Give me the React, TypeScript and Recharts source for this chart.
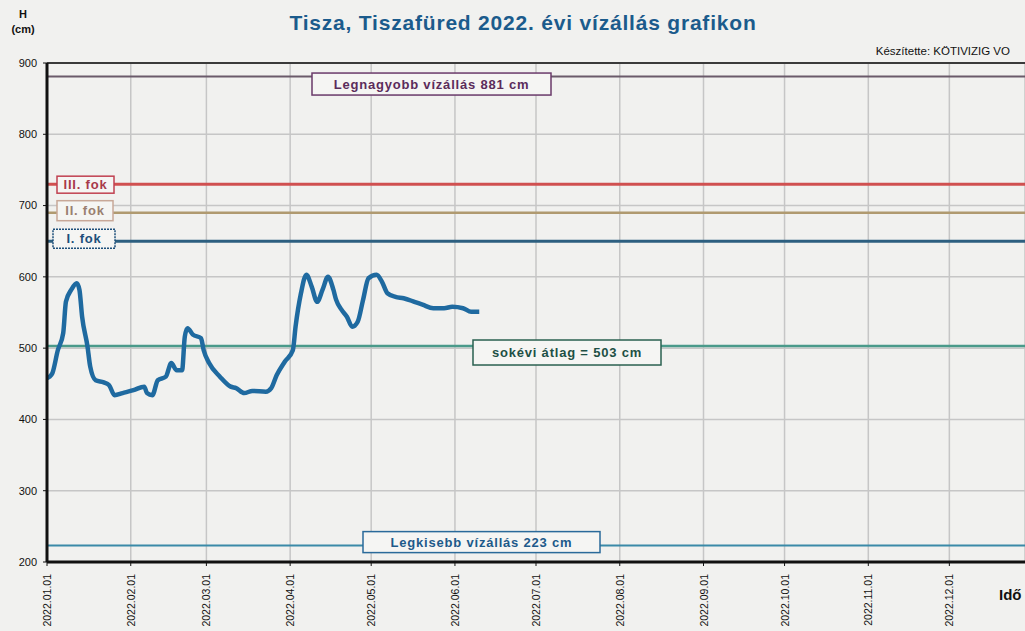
import React from "react";
import {
  LineChart,
  Line,
  XAxis,
  YAxis,
  CartesianGrid,
  ReferenceLine,
} from "recharts";

// day of year (0 = 2022.01.01) and water level in cm
const days = [
  0, 1, 2, 4, 6, 7, 9, 11, 12, 13, 15, 16, 18, 21, 23, 25, 28, 32, 36, 37, 39,
  41, 44, 46, 48, 50, 51, 52, 54, 57, 58, 60, 64, 68, 70, 73, 76, 81, 83, 85,
  88, 91, 92, 94, 96, 98, 100, 102, 104, 106, 107, 109, 111, 113, 115, 117, 119,
  122, 124, 126, 129, 132, 136, 139, 143, 147, 150, 154, 157, 160,
];
const levels = [
  458, 460, 465, 497, 521, 565, 582, 591, 582, 544, 502, 474, 455, 452, 448,
  434, 437, 441, 446, 437, 434, 455, 460, 479, 469, 469, 516, 528, 519, 514,
  497, 479, 460, 446, 444, 437, 440, 439, 444, 462, 481, 497, 530, 577, 603,
  586, 565, 582, 600, 582, 568, 554, 544, 530, 537, 568, 598, 603, 593, 577,
  572, 570, 565, 561, 556, 556, 558, 556, 551, 551,
];

const monthTicks = [0, 31, 59, 90, 120, 151, 181, 212, 243, 273, 304, 334];
const monthLabels = [
  "2022.01.01",
  "2022.02.01",
  "2022.03.01",
  "2022.04.01",
  "2022.05.01",
  "2022.06.01",
  "2022.07.01",
  "2022.08.01",
  "2022.09.01",
  "2022.10.01",
  "2022.11.01",
  "2022.12.01",
];
const yTicks = [200, 300, 400, 500, 600, 700, 800, 900];

const data = days.map((d, i) => ({ day: d, level: levels[i] }));

type BoxCfg = {
  text: string;
  dx: number;
  dy: number;
  w: number;
  h: number;
  border: string;
  color: string;
  dash?: string;
};

const boxLabel = (cfg: BoxCfg) => (props: any) => {
  const vb = props.viewBox || {};
  const x = (vb.x || 0) + cfg.dx;
  const y = (vb.y || 0) + cfg.dy;
  return (
    <g>
      <rect
        x={x}
        y={y}
        width={cfg.w}
        height={cfg.h}
        fill="#f5f5f3"
        stroke={cfg.border}
        strokeWidth={1.5}
        strokeDasharray={cfg.dash}
      />
      <text
        x={x + cfg.w / 2}
        y={y + cfg.h / 2 + 4.5}
        textAnchor="middle"
        fill={cfg.color}
        fontSize={13}
        fontWeight="bold"
        letterSpacing={0.8}
        fontFamily="'Liberation Sans', Arial, sans-serif"
      >
        {cfg.text}
      </text>
    </g>
  );
};

const XTick = (props: any) => {
  const { x, y, index } = props;
  return (
    <text
      x={0}
      y={0}
      transform={`translate(${x + 4},${y + 6}) rotate(-90)`}
      textAnchor="end"
      fontSize={10.5}
      fill="#111"
      fontFamily="'Liberation Sans', Arial, sans-serif"
    >
      {monthLabels[index]}
    </text>
  );
};

const font = "'Liberation Sans', Arial, sans-serif";

export default function App() {
  return (
    <div
      style={{
        position: "absolute",
        left: 0,
        top: 0,
        width: 1025,
        height: 631,
        background: "#f1f1ef",
        overflow: "hidden",
        fontFamily: font,
      }}
    >
      <div
        style={{
          position: "absolute",
          left: 0,
          width: 1046,
          top: 11,
          textAlign: "center",
          fontSize: 21,
          letterSpacing: 0.8,
          fontWeight: "bold",
          color: "#1b5b8c",
        }}
      >
        Tisza, Tiszafüred 2022. évi vízállás grafikon
      </div>
      <div
        style={{
          position: "absolute",
          left: 11,
          top: 7,
          width: 24,
          textAlign: "center",
          fontSize: 11,
          fontWeight: "bold",
          lineHeight: "15px",
          color: "#111",
        }}
      >
        H
        <br />
        (cm)
      </div>
      <div
        style={{
          position: "absolute",
          right: 15,
          top: 45,
          fontSize: 11.5,
          color: "#111",
        }}
      >
        Készítette: KÖTIVIZIG VO
      </div>
      <div
        style={{
          position: "absolute",
          left: 999,
          top: 586,
          fontSize: 15,
          fontWeight: "bold",
          color: "#111",
        }}
      >
        Idő
      </div>
      <div style={{ position: "absolute", left: 0, top: 0 }}>
        <LineChart
          width={1025}
          height={631}
          data={data}
          margin={{ top: 63, right: 0, bottom: 0, left: 7 }}
        >
          <CartesianGrid stroke="#c6c6c6" strokeWidth={1.5} />
          <XAxis
            dataKey="day"
            type="number"
            domain={[0, 362]}
            ticks={monthTicks}
            interval={0}
            height={69}
            tick={<XTick />}
            tickSize={4}
            stroke="#111"
            axisLine={{ stroke: "#111", strokeWidth: 3 }}
          />
          <YAxis
            type="number"
            domain={[200, 900]}
            ticks={yTicks}
            interval={0}
            width={40}
            tickSize={4}
            tickMargin={6}
            stroke="#111"
            axisLine={{ stroke: "#111", strokeWidth: 3 }}
            tick={{ fontSize: 11, fill: "#111", fontFamily: font }}
          />
          <ReferenceLine y={900} stroke="#3a3a3a" strokeWidth={2} />
          <ReferenceLine
            y={881}
            stroke="#6a5a6a"
            strokeWidth={2}
            label={boxLabel({
              text: "Legnagyobb vízállás 881 cm",
              dx: 265,
              dy: -3.5,
              w: 239,
              h: 22,
              border: "#6a3a6a",
              color: "#5b2c5b",
            })}
          />
          <ReferenceLine
            y={730}
            stroke="#d05050"
            strokeWidth={3}
            label={boxLabel({
              text: "III. fok",
              dx: 10,
              dy: -8,
              w: 57,
              h: 17,
              border: "#c04050",
              color: "#a83a4a",
            })}
          />
          <ReferenceLine
            y={690}
            stroke="#b09a70"
            strokeWidth={2.5}
            label={boxLabel({
              text: "II. fok",
              dx: 10,
              dy: -12,
              w: 56,
              h: 20,
              border: "#c8a898",
              color: "#9a8070",
            })}
          />
          <ReferenceLine
            y={650}
            stroke="#2d5f80"
            strokeWidth={3}
            label={boxLabel({
              text: "I. fok",
              dx: 6,
              dy: -12,
              w: 62,
              h: 19,
              border: "#1d4f7a",
              color: "#1d4f7a",
              dash: "2 1",
            })}
          />
          <ReferenceLine
            y={503}
            stroke="#4a9a8a"
            strokeWidth={2.5}
            label={boxLabel({
              text: "sokévi átlag =  503 cm",
              dx: 426,
              dy: -6,
              w: 188,
              h: 25,
              border: "#2a6050",
              color: "#1d5045",
            })}
          />
          <ReferenceLine
            y={223}
            stroke="#3a8aa8"
            strokeWidth={2}
            label={boxLabel({
              text: "Legkisebb vízállás 223 cm",
              dx: 316,
              dy: -14,
              w: 237,
              h: 21,
              border: "#2a6a9a",
              color: "#1d5a8a",
            })}
          />
          <Line
            type="monotone"
            dataKey="level"
            stroke="#1f6aa0"
            strokeWidth={4.5}
            dot={false}
            isAnimationActive={false}
          />
        </LineChart>
      </div>
    </div>
  );
}
